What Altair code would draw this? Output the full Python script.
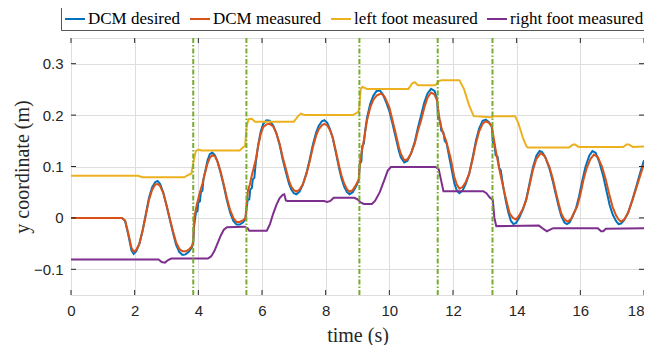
import altair as alt
import pandas as pd

# ---------------- data ----------------
series_names = ["DCM desired", "DCM measured", "left foot measured", "right foot measured"]
series_colors = ["#0072BD", "#D95319", "#EDB120", "#7E2F8E"]
series_widths = [2.0, 2.0, 1.7, 1.7]

# (time s, y m) pairs
dcm_desired = [
    (0, 0), (1.6, 0), (1.7, -0.006), (1.8, -0.033), (1.9, -0.063), (1.97, -0.07), (2.05, -0.065), (2.15, -0.05),
    (2.25, -0.024), (2.35, 0.007), (2.45, 0.039), (2.55, 0.06), (2.65, 0.07), (2.72, 0.072), (2.8, 0.066),
    (2.9, 0.049), (3.0, 0.024), (3.1, -0.002), (3.2, -0.028), (3.3, -0.052), (3.4, -0.066), (3.5, -0.072),
    (3.6, -0.071), (3.7, -0.066), (3.8, -0.057), (3.84, -0.05), (3.86, -0.02), (3.9, 0.0), (3.93, 0.012),
    (3.97, 0.013), (4.0, 0.03), (4.05, 0.032), (4.08, 0.05), (4.13, 0.053), (4.16, 0.075), (4.22, 0.092),
    (4.29, 0.112), (4.36, 0.124), (4.44, 0.127), (4.52, 0.122), (4.6, 0.11), (4.7, 0.088), (4.8, 0.062),
    (4.9, 0.034), (5.0, 0.01), (5.1, -0.006), (5.2, -0.013), (5.3, -0.013), (5.4, -0.009), (5.48, -0.003),
    (5.52, 0.02), (5.55, 0.035), (5.6, 0.036), (5.63, 0.055), (5.68, 0.058), (5.71, 0.075), (5.76, 0.078),
    (5.8, 0.105), (5.88, 0.142), (5.96, 0.168), (6.04, 0.183), (6.14, 0.19), (6.24, 0.189), (6.35, 0.18),
    (6.45, 0.165), (6.55, 0.143), (6.65, 0.114), (6.76, 0.087), (6.85, 0.066), (6.92, 0.055), (7.0, 0.048),
    (7.08, 0.046), (7.18, 0.051), (7.28, 0.064), (7.4, 0.088), (7.5, 0.114), (7.6, 0.143), (7.7, 0.166),
    (7.78, 0.179), (7.88, 0.188), (7.96, 0.19), (8.05, 0.185), (8.14, 0.172), (8.22, 0.156), (8.32, 0.127),
    (8.43, 0.094), (8.5, 0.076), (8.58, 0.061), (8.67, 0.05), (8.75, 0.046), (8.85, 0.05), (8.96, 0.062),
    (9.04, 0.073), (9.07, 0.105), (9.12, 0.11), (9.15, 0.14), (9.2, 0.145), (9.24, 0.17), (9.3, 0.195),
    (9.4, 0.222), (9.5, 0.238), (9.6, 0.247), (9.7, 0.248), (9.8, 0.24), (9.9, 0.225), (10.0, 0.208),
    (10.1, 0.183), (10.2, 0.157), (10.3, 0.13), (10.36, 0.118), (10.47, 0.108), (10.57, 0.111), (10.68, 0.125),
    (10.8, 0.148), (10.9, 0.176), (11.0, 0.2), (11.1, 0.225), (11.2, 0.242), (11.31, 0.251), (11.42, 0.247),
    (11.5, 0.232), (11.53, 0.195), (11.6, 0.188), (11.63, 0.17), (11.7, 0.166), (11.74, 0.15), (11.8, 0.145),
    (11.86, 0.125), (11.94, 0.1), (12.04, 0.068), (12.12, 0.053), (12.2, 0.048), (12.3, 0.053), (12.4, 0.066),
    (12.51, 0.086), (12.62, 0.118), (12.72, 0.15), (12.82, 0.174), (12.93, 0.189), (13.03, 0.191),
    (13.13, 0.186), (13.22, 0.177), (13.25, 0.148), (13.3, 0.143), (13.34, 0.122), (13.4, 0.119),
    (13.45, 0.097), (13.5, 0.093), (13.58, 0.06), (13.66, 0.033), (13.74, 0.01), (13.82, -0.006),
    (13.9, -0.012), (13.98, -0.01), (14.08, 0.0), (14.2, 0.017), (14.3, 0.036), (14.4, 0.066), (14.51, 0.098),
    (14.62, 0.121), (14.72, 0.13), (14.8, 0.128), (14.9, 0.118), (15.03, 0.096), (15.14, 0.07), (15.24, 0.043),
    (15.32, 0.022), (15.4, 0.004), (15.5, -0.009), (15.58, -0.012), (15.66, -0.009), (15.76, 0.003),
    (15.86, 0.018), (15.96, 0.042), (16.06, 0.072), (16.16, 0.099), (16.28, 0.121), (16.38, 0.13),
    (16.48, 0.127), (16.6, 0.108), (16.72, 0.081), (16.82, 0.053), (16.92, 0.025), (17.02, 0.006),
    (17.12, -0.006), (17.2, -0.012), (17.28, -0.011), (17.38, -0.004), (17.5, 0.01), (17.64, 0.036),
    (17.78, 0.066), (17.9, 0.092), (18.0, 0.112),
]

dcm_measured = [
    (0, 0), (1.6, 0), (1.7, -0.005), (1.8, -0.03), (1.9, -0.058), (1.97, -0.066), (2.05, -0.062), (2.15, -0.05),
    (2.25, -0.025), (2.35, 0.005), (2.45, 0.035), (2.55, 0.055), (2.65, 0.065), (2.72, 0.066), (2.8, 0.062),
    (2.9, 0.048), (3.0, 0.025), (3.1, 0.0), (3.2, -0.025), (3.3, -0.047), (3.4, -0.06), (3.5, -0.065),
    (3.6, -0.065), (3.7, -0.062), (3.8, -0.055), (3.84, -0.045), (3.87, 0.0), (3.95, 0.025), (4.05, 0.05),
    (4.13, 0.067), (4.2, 0.085), (4.29, 0.106), (4.36, 0.117), (4.44, 0.122), (4.52, 0.12), (4.6, 0.11),
    (4.7, 0.09), (4.8, 0.065), (4.9, 0.038), (5.0, 0.015), (5.1, 0.0), (5.2, -0.008), (5.3, -0.008),
    (5.4, -0.005), (5.48, 0.0), (5.52, 0.03), (5.56, 0.054), (5.62, 0.065), (5.67, 0.08), (5.75, 0.1),
    (5.8, 0.112), (5.88, 0.14), (5.96, 0.163), (6.04, 0.177), (6.14, 0.182), (6.24, 0.183), (6.35, 0.178),
    (6.45, 0.165), (6.55, 0.145), (6.65, 0.118), (6.76, 0.093), (6.85, 0.072), (6.92, 0.061), (7.0, 0.054),
    (7.08, 0.051), (7.18, 0.055), (7.28, 0.065), (7.4, 0.086), (7.5, 0.11), (7.6, 0.138), (7.7, 0.16),
    (7.78, 0.172), (7.88, 0.18), (7.96, 0.183), (8.05, 0.18), (8.14, 0.17), (8.22, 0.157), (8.32, 0.13),
    (8.43, 0.099), (8.5, 0.082), (8.58, 0.067), (8.67, 0.056), (8.75, 0.051), (8.85, 0.054), (8.96, 0.065),
    (9.04, 0.075), (9.08, 0.11), (9.15, 0.135), (9.2, 0.151), (9.3, 0.19), (9.4, 0.215), (9.5, 0.23),
    (9.6, 0.238), (9.74, 0.242), (9.85, 0.236), (10.0, 0.215), (10.1, 0.19), (10.2, 0.164), (10.3, 0.138),
    (10.36, 0.125), (10.47, 0.112), (10.57, 0.114), (10.68, 0.125), (10.8, 0.145), (10.9, 0.17), (11.0, 0.19),
    (11.1, 0.215), (11.2, 0.234), (11.31, 0.244), (11.42, 0.24), (11.5, 0.228), (11.56, 0.2), (11.6, 0.183),
    (11.68, 0.167), (11.78, 0.151), (11.86, 0.132), (11.94, 0.112), (12.04, 0.08), (12.12, 0.065),
    (12.2, 0.057), (12.3, 0.06), (12.4, 0.07), (12.51, 0.086), (12.62, 0.115), (12.72, 0.145), (12.82, 0.168),
    (12.93, 0.183), (13.03, 0.188), (13.13, 0.185), (13.22, 0.178), (13.28, 0.155), (13.34, 0.132),
    (13.46, 0.093), (13.55, 0.068), (13.62, 0.048), (13.7, 0.028), (13.78, 0.009), (13.88, 0.0),
    (13.98, -0.003), (14.08, 0.005), (14.2, 0.018), (14.3, 0.035), (14.4, 0.062), (14.51, 0.093),
    (14.62, 0.115), (14.76, 0.126), (14.88, 0.12), (15.03, 0.099), (15.14, 0.075), (15.24, 0.048),
    (15.32, 0.028), (15.4, 0.009), (15.5, -0.003), (15.6, -0.007), (15.7, -0.003), (15.8, 0.01), (15.9, 0.022),
    (16.0, 0.045), (16.1, 0.074), (16.2, 0.097), (16.32, 0.115), (16.43, 0.123), (16.55, 0.118), (16.68, 0.1),
    (16.8, 0.074), (16.9, 0.048), (17.01, 0.022), (17.12, 0.005), (17.2, -0.003), (17.27, -0.007),
    (17.38, -0.003), (17.5, 0.01), (17.64, 0.035), (17.78, 0.062), (17.9, 0.086), (18.0, 0.105),
]

left_foot = [
    (0, 0.082), (2.1, 0.082), (2.25, 0.079), (3.55, 0.079), (3.7, 0.084), (3.78, 0.086), (3.85, 0.11),
    (3.92, 0.13), (4.0, 0.133), (4.1, 0.131), (5.3, 0.131), (5.4, 0.137), (5.47, 0.14), (5.52, 0.18),
    (5.58, 0.192), (5.68, 0.193), (5.78, 0.187), (7.0, 0.187), (7.12, 0.197), (7.22, 0.203), (7.35, 0.2),
    (8.85, 0.2), (9.0, 0.205), (9.05, 0.21), (9.1, 0.25), (9.15, 0.255), (9.3, 0.251), (10.6, 0.251),
    (10.72, 0.262), (10.8, 0.264), (10.9, 0.258), (11.45, 0.258), (11.55, 0.266), (11.65, 0.268),
    (12.2, 0.268), (12.35, 0.25), (12.5, 0.22), (12.65, 0.198), (13.2, 0.196), (13.3, 0.198), (13.95, 0.198),
    (14.05, 0.185), (14.2, 0.155), (14.3, 0.14), (14.35, 0.137), (15.65, 0.137), (15.75, 0.142),
    (15.82, 0.143), (15.95, 0.138), (17.35, 0.138), (17.45, 0.143), (17.52, 0.143), (17.65, 0.138),
    (18.0, 0.139),
]

right_foot = [
    (0, -0.081), (2.75, -0.081), (2.85, -0.086), (2.95, -0.087), (3.05, -0.082), (3.15, -0.079), (4.3, -0.079),
    (4.4, -0.075), (4.5, -0.065), (4.6, -0.05), (4.7, -0.035), (4.8, -0.023), (4.9, -0.018), (5.45, -0.017),
    (5.55, -0.02), (5.6, -0.025), (6.15, -0.025), (6.25, -0.012), (6.35, 0.008), (6.45, 0.025), (6.55, 0.038),
    (6.65, 0.045), (6.7, 0.046), (6.75, 0.034), (6.8, 0.033), (7.95, 0.033), (8.05, 0.031), (8.15, 0.033),
    (8.25, 0.039), (8.9, 0.039), (9.0, 0.036), (9.1, 0.03), (9.2, 0.027), (9.45, 0.027), (9.55, 0.033),
    (9.7, 0.05), (9.85, 0.075), (9.95, 0.092), (10.05, 0.099), (11.45, 0.099), (11.55, 0.095), (11.62, 0.075),
    (11.7, 0.052), (12.95, 0.052), (13.05, 0.048), (13.15, 0.04), (13.25, 0.035), (13.3, 0.0),
    (13.36, -0.016), (14.7, -0.015), (14.85, -0.022), (14.95, -0.026), (15.05, -0.023), (15.15, -0.02),
    (16.55, -0.02), (16.65, -0.026), (16.72, -0.026), (16.8, -0.021), (18.0, -0.02),
]

event_times = [3.84, 5.51, 9.06, 11.52, 13.24]
x_ticks = [0, 2, 4, 6, 8, 10, 12, 14, 16, 18]
y_ticks = [-0.1, 0, 0.1, 0.2, 0.3]

# ---------------- build table ----------------
frames = []
for name, pts in zip(series_names, [dcm_desired, dcm_measured, left_foot, right_foot]):
    frames.append(pd.DataFrame({"t": [p[0] for p in pts], "y": [p[1] for p in pts], "series": name}))
df = pd.concat(frames, ignore_index=True)
df_ev = pd.DataFrame({"t": event_times})
df_xt = pd.DataFrame({"t": x_ticks})
df_yt = pd.DataFrame({"y": y_ticks})

W, H = 573, 257
AX = "#262626"
xs = alt.Scale(domain=[0, 18], nice=False, zero=False)
ys = alt.Scale(domain=[-0.15, 0.35], nice=False, zero=False)

x_axis = alt.Axis(values=x_ticks, title="time (s)", grid=True, gridColor="#dedede", domain=False, ticks=False,
                  labelFont="Liberation Sans", labelFontSize=15, labelColor=AX, labelPadding=8,
                  labelFlush=False, labelOverlap=False,
                  labelAlign=alt.expr("datum.value == 18 ? 'right' : 'center'"),
                  titleFont="Liberation Serif", titleFontSize=20, titleFontWeight="normal", titleColor=AX,
                  titlePadding=7, format="d")
y_axis = alt.Axis(values=y_ticks, title="y coordinate (m)", grid=True, gridColor="#dedede", domain=False,
                  ticks=False, labelFont="Liberation Sans", labelFontSize=15, labelColor=AX, labelPadding=8,
                  labelFlush=False,
                  titleFont="Liberation Serif", titleFontSize=20, titleFontWeight="normal", titleColor=AX,
                  titlePadding=1, labelExpr="datum.value == 0 ? '0' : format(datum.value, '.1f')")

lines = alt.Chart(df).mark_line(clip=True).encode(
    x=alt.X("t:Q", scale=xs, axis=x_axis),
    y=alt.Y("y:Q", scale=ys, axis=y_axis),
    color=alt.Color("series:N", scale=alt.Scale(domain=series_names, range=series_colors),
                    legend=alt.Legend(title=None, orient="none", legendX=-10, legendY=-33, direction="horizontal",
                                      columns=4, strokeColor="#555555", fillColor="white", padding=3,
                                      symbolType="stroke", symbolSize=400, symbolStrokeWidth=2,
                                      labelFont="Liberation Serif", labelFontSize=17, labelColor="black",
                                      labelOffset=2, columnPadding=5, labelLimit=300)),
    strokeWidth=alt.StrokeWidth("series:N", scale=alt.Scale(domain=series_names, range=series_widths),
                                legend=None),
)

events = alt.Chart(df_ev).mark_rule(color="#77AC30", strokeWidth=2, strokeDash=[5, 2, 1.5, 2]).encode(
    x=alt.X("t:Q", scale=xs))

tick_len = 5
xt_bot = alt.Chart(df_xt).mark_rule(color=AX, strokeWidth=1).encode(
    x=alt.X("t:Q", scale=xs), y=alt.value(H), y2=alt.value(H - tick_len))
xt_top = alt.Chart(df_xt).mark_rule(color=AX, strokeWidth=1).encode(
    x=alt.X("t:Q", scale=xs), y=alt.value(0), y2=alt.value(tick_len))
yt_left = alt.Chart(df_yt).mark_rule(color=AX, strokeWidth=1).encode(
    y=alt.Y("y:Q", scale=ys), x=alt.value(0), x2=alt.value(tick_len))
yt_right = alt.Chart(df_yt).mark_rule(color=AX, strokeWidth=1).encode(
    y=alt.Y("y:Q", scale=ys), x=alt.value(W), x2=alt.value(W - tick_len))

chart = alt.layer(lines, events, xt_bot, xt_top, yt_left, yt_right).properties(
    width=W, height=H,
    padding={"left": 63, "top": 30, "right": 0, "bottom": 50},
    autosize=alt.AutoSizeParams(type="none"),
).configure_view(stroke=AX, strokeWidth=1).configure(background="white")

chart.save("out.html", embed_options={"renderer": "svg", "actions": False})
